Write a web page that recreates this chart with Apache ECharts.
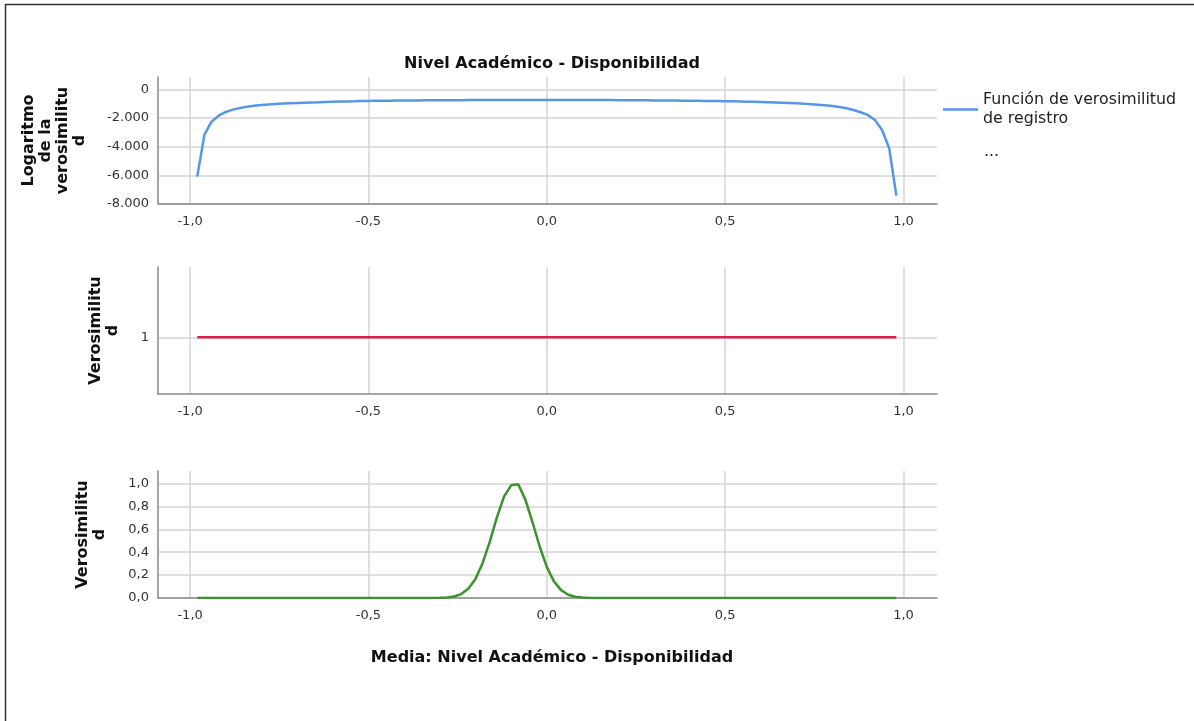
<!DOCTYPE html>
<html><head><meta charset="utf-8">
<script src="https://cdn.jsdelivr.net/npm/echarts@6/dist/echarts.min.js"></script>
<style>html,body{margin:0;padding:0;background:#fff}#c{width:1194px;height:721px}</style>
</head><body><div id="c"></div>
<script>
// x positions (Media)
const xValues = [-0.98,-0.96,-0.94,-0.92,-0.90,-0.88,-0.86,-0.84,-0.82,-0.80,-0.78,-0.76,-0.74,-0.72,-0.70,-0.68,-0.66,-0.64,-0.62,-0.60,-0.58,-0.56,-0.54,-0.52,-0.50,-0.48,-0.46,-0.44,-0.42,-0.40,-0.38,-0.36,-0.34,-0.32,-0.30,-0.28,-0.26,-0.24,-0.22,-0.20,-0.18,-0.16,-0.14,-0.12,-0.10,-0.08,-0.06,-0.04,-0.02,0.00,0.02,0.04,0.06,0.08,0.10,0.12,0.14,0.16,0.18,0.20,0.22,0.24,0.26,0.28,0.30,0.32,0.34,0.36,0.38,0.40,0.42,0.44,0.46,0.48,0.50,0.52,0.54,0.56,0.58,0.60,0.62,0.64,0.66,0.68,0.70,0.72,0.74,0.76,0.78,0.80,0.82,0.84,0.86,0.88,0.90,0.92,0.94,0.96,0.98];
// log-likelihood
const logLik = [-6090,-3185,-2260,-1840,-1580,-1420,-1300,-1210,-1145,-1090,-1055,-1025,-995,-975,-955,-935,-915,-898,-880,-865,-855,-845,-835,-822,-810,-805,-800,-795,-790,-785,-780,-776,-772,-768,-765,-762,-759,-756,-753,-750,-748,-746,-744,-743,-742,-741,-740,-740,-740,-740,-741,-742,-743,-744,-746,-748,-750,-752,-755,-758,-761,-764,-768,-772,-776,-780,-785,-790,-795,-800,-805,-810,-815,-822,-830,-840,-850,-862,-873,-885,-900,-915,-932,-952,-975,-1000,-1035,-1070,-1115,-1165,-1235,-1325,-1440,-1600,-1790,-2140,-2840,-4110,-7415];
// likelihood (middle panel)
const lik = [1,1,1,1,1,1,1,1,1,1,1,1,1,1,1,1,1,1,1,1,1,1,1,1,1,1,1,1,1,1,1,1,1,1,1,1,1,1,1,1,1,1,1,1,1,1,1,1,1,1,1,1,1,1,1,1,1,1,1,1,1,1,1,1,1,1,1,1,1,1,1,1,1,1,1,1,1,1,1,1,1,1,1,1,1,1,1,1,1,1,1,1,1,1,1,1,1,1,1];
// likelihood (bottom panel)
const likNorm = [0,0,0,0,0,0,0,0,0,0,0,0,0,0,0,0,0,0,0,0,0,0,0,0,0,0,0,0,0,0,0,0,0,0.0003,0.0013,0.0043,0.013,0.034,0.080,0.166,0.304,0.491,0.702,0.886,0.985,0.995,0.860,0.662,0.450,0.272,0.145,0.069,0.029,0.011,0.0035,0.001,0.0002,0,0,0,0,0,0,0,0,0,0,0,0,0,0,0,0,0,0,0,0,0,0,0,0,0,0,0,0,0,0,0,0,0,0,0,0,0,0,0,0,0,0];
const xTicks = [-1,-0.5,0,0.5,1];
const yTicksTop = [-8000,-6000,-4000,-2000,0];
const yTicksMid = [1];
const yTicksBottom = [0,0.2,0.4,0.6,0.8,1.0];

const FONT = '"DejaVu Sans", Verdana, sans-serif';
const gridColor = '#d4d4d4';
const axisColor = '#8a8a8a';
const labelColor = '#333';

function pairs(ys){ return xValues.map((x,i)=>[x, ys[i]]); }
const fmtX = v => v.toFixed(1).replace('.', ',');

function xAxis(gi){
  return {
    type:'value', gridIndex:gi, min:-1.09, max:1.094,
    axisLine:{show:true, onZero:false, lineStyle:{color:axisColor, width:1.5}},
    axisTick:{show:false, customValues:xTicks},
    axisLabel:{customValues:xTicks, formatter:fmtX, color:labelColor, fontFamily:FONT, fontSize:13, margin:11},
    splitLine:{show:true, lineStyle:{color:gridColor, width:1.5}}
  };
}
function yAxis(gi, min, max, ticks, fmt, name, gap){
  return {
    type:'value', gridIndex:gi, min:min, max:max,
    name:name, nameLocation:'middle', nameGap:gap, nameRotate:90,
    nameTextStyle:{fontFamily:FONT, fontWeight:'bold', fontSize:16, color:'#111', lineHeight:17, align:'center'},
    axisLine:{show:true, onZero:false, lineStyle:{color:axisColor, width:1.5}},
    axisTick:{show:false, customValues:ticks},
    axisLabel:{customValues:ticks, color:labelColor, fontFamily:FONT, fontSize:13, margin:9, formatter:fmt},
    splitLine:{show:true, lineStyle:{color:gridColor, width:1.5}}
  };
}

const option = {
  animation:false,
  backgroundColor:'#fff',
  title:[
    {text:'Nivel Académico - Disponibilidad', left:547, top:51, textAlign:'center',
     textStyle:{fontFamily:FONT, fontWeight:'bold', fontSize:16, color:'#111'}},
    {text:'Media: Nivel Académico - Disponibilidad', left:547, top:645, textAlign:'center',
     textStyle:{fontFamily:FONT, fontWeight:'bold', fontSize:16, color:'#111'}}
  ],
  legend:{
    left:943, top:87, padding:0, orient:'vertical', itemWidth:35, itemHeight:2.5, icon:'rect',
    data:['Función de verosimilitud de registro'],
    formatter:()=> 'Función de verosimilitud\nde registro',
    textStyle:{fontFamily:FONT, fontSize:15.8, color:'#222', lineHeight:18.5, padding:[8,0,0,0]}
  },
  graphic:[
    {type:'line', shape:{x1:5.5,y1:4,x2:5.5,y2:721}, style:{stroke:'#333', lineWidth:1.5}},
    {type:'line', shape:{x1:5,y1:4.5,x2:1194,y2:4.5}, style:{stroke:'#333', lineWidth:1.5}},
    {type:'text', left:984, top:144, style:{text:'...', font:'15.8px "DejaVu Sans"', fill:'#222'}}
  ],
  grid:[
    {left:158, right:257, top:77, height:127},
    {left:158, right:257, top:267, height:127},
    {left:158, right:257, top:471, height:127}
  ],
  xAxis:[xAxis(0), xAxis(1), xAxis(2)],
  yAxis:[
    yAxis(0, -8000, 857, yTicksTop, v=> String(v).replace(/\B(?=(\d{3})+(?!\d))/g,'.'),
      'Logaritmo\nde la\nverosimilitu\nd', 70),
    yAxis(1, 0, 2.24, yTicksMid, v=> String(v), 'Verosimilitu\nd', 37),
    yAxis(2, 0, 1.11, yTicksBottom, v=> v.toFixed(1).replace('.',','), 'Verosimilitu\nd', 50)
  ],
  series:[
    {name:'Función de verosimilitud de registro', type:'line', xAxisIndex:0, yAxisIndex:0, data:pairs(logLik),
     symbol:'none', lineStyle:{color:'#5596e6', width:2.5}, itemStyle:{color:'#5596e6'}},
    {name:'Verosimilitud', type:'line', xAxisIndex:1, yAxisIndex:1, data:pairs(lik),
     symbol:'none', lineStyle:{color:'#d8204e', width:2.5}, itemStyle:{color:'#d8204e'}},
    {name:'Verosimilitud2', type:'line', xAxisIndex:2, yAxisIndex:2, data:pairs(likNorm),
     symbol:'none', lineStyle:{color:'#3c9130', width:2.5}, itemStyle:{color:'#3c9130'}}
  ]
};
const chart = echarts.init(document.getElementById('c'), null, {renderer:'canvas'});
chart.setOption(option);
</script></body></html>
